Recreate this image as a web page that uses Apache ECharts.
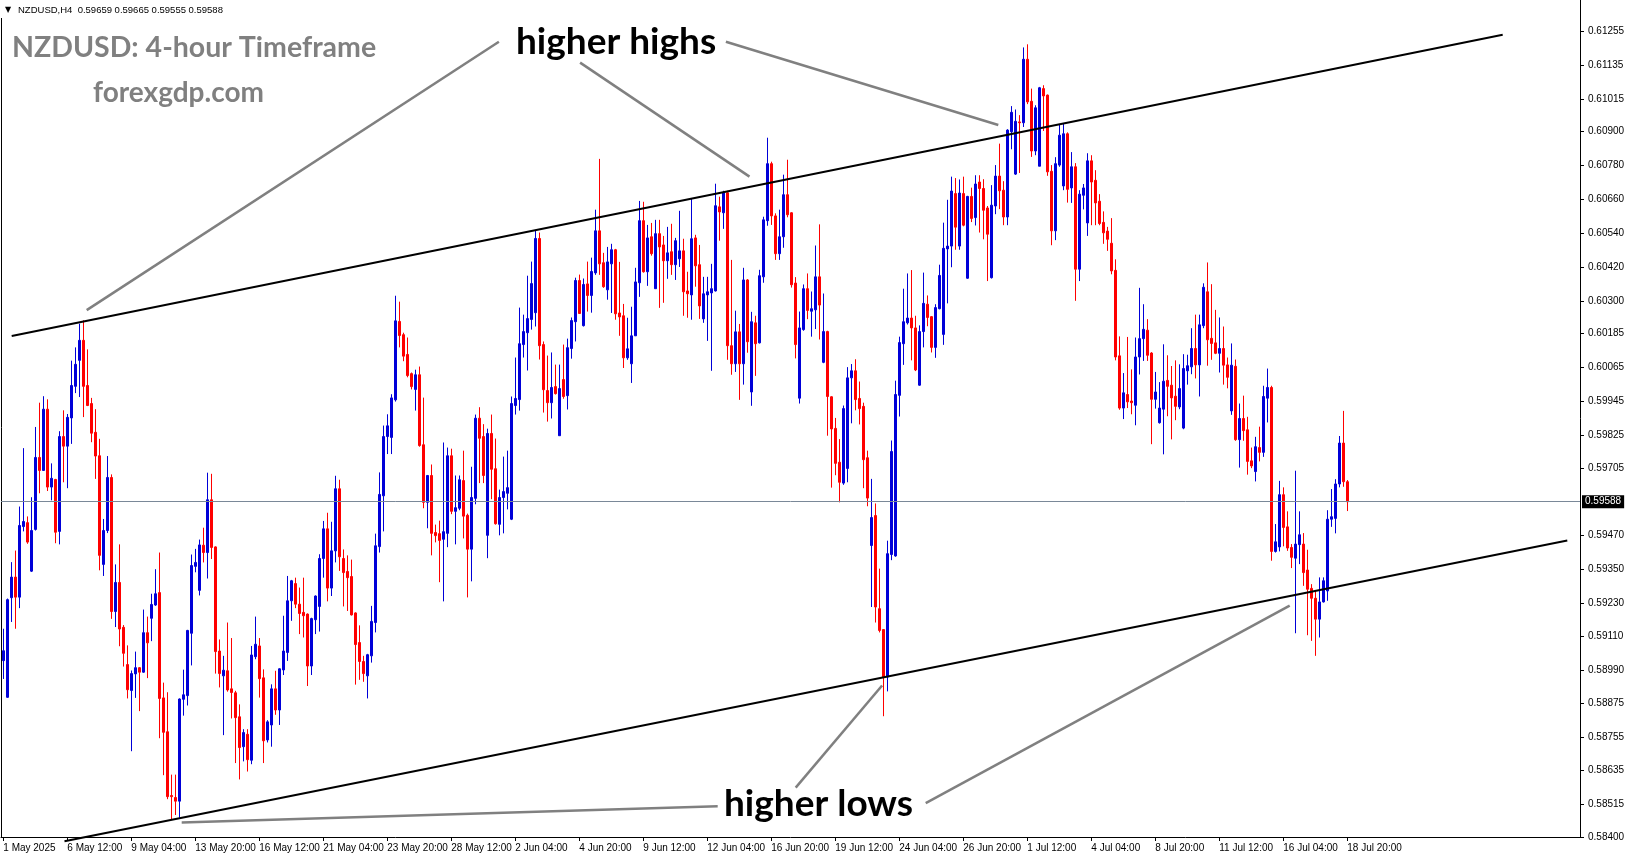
<!DOCTYPE html>
<html><head><meta charset="utf-8">
<script src="https://cdn.jsdelivr.net/npm/echarts@6/dist/echarts.min.js"></script>
<style>html,body{margin:0;padding:0;background:#fff;}#c{width:1631px;height:861px;}</style>
</head><body><div id="c"></div>
<script>
// ---- data (NZDUSD H4, 1 May 2025 20:00 .. 18 Jul 2025 20:00) ----
const opens = [0.59025,0.58895,0.59248,0.59321,0.59250,0.59500,0.59514,0.59342,0.59490,0.59745,
0.59699,0.59916,0.59640,0.59667,0.59483,0.59819,0.59785,0.59885,0.59997,0.60089,
0.60160,0.60000,0.59936,0.59834,0.59751,0.59366,0.59486,0.59674,0.59199,0.59302,
0.59143,0.59011,0.58919,0.58978,0.59000,0.58984,0.59124,0.59175,0.59222,0.59266,
0.58893,0.58773,0.58547,0.58540,0.58527,0.58888,0.58901,0.59122,0.59359,0.59274,
0.59434,0.59408,0.59595,0.59428,0.59059,0.58971,0.58989,0.58925,0.58911,0.58826,
0.58720,0.58764,0.58672,0.59039,0.59077,0.58964,0.58744,0.58797,0.58925,0.58850,
0.58992,0.59054,0.59237,0.59298,0.59225,0.59196,0.59190,0.59006,0.59170,0.59217,
0.59387,0.59492,0.59282,0.59414,0.59634,0.59387,0.59341,0.59323,0.59194,0.59089,
0.59022,0.58971,0.59042,0.59160,0.59429,0.59609,0.59819,0.59816,0.59949,0.60227,
0.60180,0.60110,0.60042,0.59986,0.60038,0.59790,0.59586,0.59681,0.59479,0.59475,
0.59455,0.59476,0.59751,0.59554,0.59565,0.59663,0.59540,0.59420,0.59600,0.59884,
0.59819,0.59469,0.59830,0.59705,0.59508,0.59603,0.59618,0.59526,0.59929,0.59950,
0.60145,0.60187,0.60234,0.60258,0.60521,0.60145,0.59982,0.59939,0.59996,0.59822,
0.60021,0.59964,0.60131,0.60226,0.60372,0.60212,0.60360,0.60319,0.60399,0.60548,
0.60435,0.60339,0.60431,0.60481,0.60257,0.60247,0.60098,0.60077,0.60176,0.60364,
0.60584,0.60403,0.60527,0.60343,0.60538,0.60498,0.60442,0.60474,0.60428,0.60449,
0.60477,0.60335,0.60321,0.60523,0.60428,0.60236,0.60321,0.60328,0.60335,0.60633,
0.60612,0.60683,0.60141,0.60077,0.60190,0.60077,0.60374,0.59977,0.60222,0.60151,
0.60385,0.60584,0.60786,0.60601,0.60467,0.60527,0.60676,0.60612,0.60363,0.59955,
0.60198,0.60343,0.60263,0.60268,0.60385,0.60082,0.60191,0.59960,0.59848,0.59728,
0.59654,0.59706,0.60027,0.60052,0.59954,0.59926,0.59744,0.59433,0.59539,0.59209,
0.59135,0.58967,0.59401,0.59396,0.59965,0.60148,0.60222,0.60239,0.60204,0.60001,
0.60191,0.60288,0.60244,0.60135,0.60272,0.60181,0.60484,0.60494,0.60680,0.60494,
0.60680,0.60380,0.60670,0.60595,0.60721,0.60698,0.60629,0.60382,0.60636,0.60742,
0.60692,0.60597,0.60899,0.60749,0.60934,0.60931,0.61156,0.61007,0.60831,0.60777,
0.61052,0.61029,0.60759,0.60548,0.60781,0.60707,0.60892,0.60700,0.60775,0.60412,
0.60674,0.60576,0.60796,0.60727,0.60653,0.60578,0.60547,0.60504,0.60408,0.60105,
0.59920,0.59968,0.59945,0.59930,0.60101,0.60166,0.60196,0.60115,0.59951,0.59868,
0.59916,0.60018,0.60001,0.59962,0.59924,0.59849,0.60052,0.60066,0.60131,0.60073,
0.60212,0.60332,0.60167,0.60151,0.60114,0.60131,0.60073,0.59910,0.60068,0.59808,
0.59883,0.59843,0.59733,0.59695,0.59780,0.59763,0.59955,0.59993,0.59412,0.59428,
0.59613,0.59499,0.59426,0.59388,0.59436,0.59438,0.59346,0.59281,0.59246,0.59172,
0.59233,0.59272,0.59526,0.59529,0.59651,0.59796,0.59659];
const highs = [0.59138,0.59245,0.59374,0.59415,0.59571,0.59778,0.59536,0.59604,0.59853,0.59939,
0.59962,0.59951,0.59724,0.59669,0.59838,0.59912,0.59899,0.60088,0.60135,0.60219,
0.60231,0.60128,0.59956,0.59916,0.59811,0.59527,0.59750,0.59685,0.59366,0.59437,
0.59151,0.59079,0.58990,0.59057,0.59002,0.59206,0.59181,0.59262,0.59349,0.59408,
0.58947,0.58913,0.58621,0.58621,0.58891,0.58993,0.59134,0.59401,0.59421,0.59454,
0.59496,0.59691,0.59687,0.59430,0.59100,0.59042,0.59160,0.59105,0.58918,0.58870,
0.58782,0.58782,0.59077,0.59181,0.59105,0.58994,0.58814,0.58941,0.58989,0.58998,
0.59184,0.59325,0.59311,0.59319,0.59284,0.59319,0.59192,0.59177,0.59256,0.59402,
0.59520,0.59549,0.59517,0.59680,0.59666,0.59419,0.59398,0.59383,0.59196,0.59150,
0.59042,0.59049,0.59219,0.59475,0.59692,0.59858,0.59898,0.59969,0.60318,0.60297,
0.60187,0.60170,0.60046,0.60056,0.60067,0.59957,0.59683,0.59720,0.59507,0.59521,
0.59798,0.59780,0.59776,0.59681,0.59681,0.59769,0.59546,0.59712,0.59897,0.59923,
0.59863,0.59847,0.59897,0.59812,0.59631,0.59748,0.59769,0.59961,0.60099,0.60276,
0.60251,0.60389,0.60439,0.60549,0.60542,0.60156,0.60106,0.60117,0.60074,0.60074,
0.60145,0.60166,0.60241,0.60382,0.60393,0.60379,0.60439,0.60453,0.60623,0.60803,
0.60470,0.60491,0.60502,0.60484,0.60438,0.60289,0.60240,0.60279,0.60417,0.60654,
0.60651,0.60569,0.60576,0.60587,0.60587,0.60530,0.60562,0.60573,0.60523,0.60619,
0.60520,0.60403,0.60662,0.60534,0.60498,0.60385,0.60385,0.60431,0.60715,0.60669,
0.60690,0.60690,0.60445,0.60265,0.60218,0.60417,0.60377,0.60261,0.60247,0.60410,
0.60598,0.60878,0.60793,0.60610,0.60623,0.60747,0.60800,0.60614,0.60384,0.60262,
0.60358,0.60397,0.60333,0.60496,0.60571,0.60326,0.60194,0.59962,0.59885,0.59810,
0.59929,0.60065,0.60076,0.60093,0.60014,0.59939,0.59769,0.59669,0.59582,0.59351,
0.59137,0.59450,0.59805,0.60017,0.60173,0.60343,0.60397,0.60409,0.60247,0.60213,
0.60400,0.60319,0.60246,0.60288,0.60428,0.60577,0.60658,0.60740,0.60735,0.60730,
0.60740,0.60672,0.60701,0.60745,0.60745,0.60731,0.60636,0.60710,0.60781,0.60857,
0.60724,0.60908,0.60990,0.60978,0.60958,0.61198,0.61209,0.61052,0.60993,0.61058,
0.61064,0.61031,0.60781,0.60809,0.60926,0.60928,0.60897,0.60827,0.60788,0.60692,
0.60714,0.60823,0.60816,0.60763,0.60678,0.60617,0.60562,0.60593,0.60447,0.60174,
0.60044,0.60172,0.60057,0.60170,0.60346,0.60288,0.60235,0.60118,0.60048,0.60012,
0.60146,0.60107,0.60069,0.60089,0.60075,0.60111,0.60109,0.60203,0.60251,0.60251,
0.60362,0.60436,0.60359,0.60268,0.60241,0.60209,0.60099,0.60149,0.60092,0.59936,
0.59964,0.59889,0.59780,0.59818,0.59854,0.59999,0.60060,0.59999,0.59509,0.59662,
0.59639,0.59554,0.59438,0.59698,0.59554,0.59477,0.59418,0.59296,0.59272,0.59320,
0.59320,0.59558,0.59633,0.59668,0.59821,0.59910,0.59665];
const lows = [0.58960,0.58893,0.59162,0.59138,0.59211,0.59483,0.59439,0.59339,0.59486,0.59618,
0.59697,0.59626,0.59593,0.59441,0.59437,0.59657,0.59636,0.59793,0.59973,0.59959,
0.59888,0.59927,0.59799,0.59669,0.59345,0.59325,0.59477,0.59173,0.59144,0.59076,
0.59004,0.58891,0.58704,0.58893,0.58846,0.58982,0.58963,0.59094,0.59219,0.58750,
0.58619,0.58534,0.58462,0.58478,0.58468,0.58830,0.58866,0.59008,0.59338,0.59256,
0.59373,0.59316,0.59385,0.58979,0.58930,0.58761,0.58915,0.58820,0.58662,0.58604,
0.58668,0.58632,0.58658,0.59030,0.58894,0.58662,0.58735,0.58720,0.58833,0.58797,
0.58974,0.59024,0.59166,0.59211,0.59119,0.59107,0.58935,0.58974,0.59119,0.59128,
0.59319,0.59235,0.59254,0.59373,0.59343,0.59217,0.59201,0.59185,0.58940,0.58957,
0.58950,0.58891,0.59018,0.59125,0.59408,0.59483,0.59757,0.59757,0.59943,0.60135,
0.60086,0.60029,0.59986,0.59911,0.59783,0.59565,0.59494,0.59398,0.59444,0.59303,
0.59235,0.59427,0.59544,0.59437,0.59558,0.59458,0.59249,0.59306,0.59579,0.59654,
0.59654,0.59388,0.59597,0.59507,0.59469,0.59476,0.59561,0.59523,0.59897,0.59911,
0.60099,0.60053,0.60198,0.60209,0.60092,0.59904,0.59872,0.59883,0.59968,0.59822,
0.59953,0.59915,0.60095,0.60156,0.60255,0.60209,0.60262,0.60258,0.60392,0.60392,
0.60346,0.60304,0.60257,0.60233,0.60176,0.60062,0.60091,0.60009,0.60176,0.60314,
0.60400,0.60353,0.60460,0.60343,0.60275,0.60293,0.60378,0.60392,0.60374,0.60420,
0.60247,0.60240,0.60233,0.60350,0.60236,0.60222,0.60158,0.60052,0.60333,0.60513,
0.60555,0.60091,0.60038,0.60048,0.59949,0.60003,0.60116,0.59928,0.60034,0.60149,
0.60364,0.60566,0.60569,0.60445,0.60445,0.60488,0.60596,0.60347,0.60096,0.59936,
0.60194,0.60235,0.60173,0.60200,0.60163,0.60079,0.59822,0.59638,0.59682,0.59586,
0.59648,0.59657,0.59866,0.59912,0.59862,0.59636,0.59572,0.59215,0.59160,0.59125,
0.58828,0.58916,0.59381,0.59393,0.59890,0.60073,0.60216,0.60089,0.60051,0.59999,
0.60135,0.60210,0.60117,0.60098,0.60270,0.60144,0.60291,0.60419,0.60481,0.60481,
0.60564,0.60378,0.60579,0.60567,0.60542,0.60518,0.60370,0.60379,0.60607,0.60625,
0.60568,0.60568,0.60837,0.60746,0.60753,0.60916,0.60997,0.60810,0.60816,0.60777,
0.60902,0.60743,0.60497,0.60515,0.60775,0.60692,0.60648,0.60647,0.60300,0.60370,
0.60624,0.60530,0.60568,0.60568,0.60568,0.60502,0.60477,0.60394,0.60089,0.59914,
0.59881,0.59920,0.59898,0.59859,0.60039,0.60087,0.60087,0.59792,0.59918,0.59865,
0.59756,0.59891,0.59809,0.59877,0.59916,0.59845,0.60003,0.60040,0.60025,0.59961,
0.60203,0.60070,0.60091,0.60111,0.60046,0.60003,0.59990,0.59896,0.59804,0.59709,
0.59804,0.59684,0.59707,0.59660,0.59731,0.59747,0.59869,0.59379,0.59408,0.59412,
0.59430,0.59414,0.59353,0.59122,0.59367,0.59290,0.59115,0.59095,0.59042,0.59107,
0.59231,0.59237,0.59499,0.59476,0.59639,0.59641,0.59555];
const closes = [0.59060,0.59241,0.59321,0.59250,0.59504,0.59518,0.59445,0.59486,0.59745,0.59699,
0.59916,0.59640,0.59671,0.59480,0.59819,0.59785,0.59887,0.60000,0.60075,0.60160,
0.59997,0.59929,0.59831,0.59750,0.59398,0.59486,0.59674,0.59199,0.59302,0.59137,
0.59051,0.58922,0.58979,0.59000,0.58984,0.59124,0.59088,0.59224,0.59262,0.58891,
0.58771,0.58543,0.58543,0.58527,0.58889,0.58904,0.59132,0.59362,0.59373,0.59435,
0.59408,0.59595,0.59426,0.59057,0.58979,0.58991,0.58921,0.58912,0.58823,0.58717,
0.58770,0.58674,0.59045,0.59083,0.58961,0.58741,0.58808,0.58925,0.58850,0.58996,
0.59059,0.59237,0.59308,0.59225,0.59192,0.59184,0.59006,0.59174,0.59254,0.59387,
0.59492,0.59282,0.59414,0.59634,0.59393,0.59337,0.59319,0.59187,0.59082,0.59022,
0.58979,0.59046,0.59164,0.59432,0.59614,0.59819,0.59857,0.59956,0.60229,0.60177,
0.60104,0.60035,0.59996,0.60038,0.59787,0.59586,0.59681,0.59476,0.59468,0.59451,
0.59482,0.59751,0.59554,0.59567,0.59666,0.59537,0.59420,0.59603,0.59884,0.59813,
0.59681,0.59830,0.59703,0.59510,0.59603,0.59624,0.59638,0.59936,0.59954,0.60148,
0.60191,0.60237,0.60361,0.60521,0.60141,0.59985,0.59939,0.59993,0.59971,0.59989,
0.59961,0.60134,0.60230,0.60372,0.60255,0.60358,0.60319,0.60404,0.60548,0.60431,
0.60350,0.60438,0.60481,0.60254,0.60243,0.60098,0.60130,0.60176,0.60367,0.60584,
0.60403,0.60523,0.60467,0.60538,0.60491,0.60442,0.60470,0.60428,0.60513,0.60477,
0.60332,0.60325,0.60520,0.60424,0.60282,0.60325,0.60332,0.60343,0.60637,0.60615,
0.60683,0.60141,0.60077,0.60190,0.60077,0.60374,0.60155,0.60226,0.60148,0.60389,
0.60587,0.60786,0.60601,0.60467,0.60527,0.60676,0.60605,0.60357,0.60145,0.60204,
0.60343,0.60266,0.60272,0.60385,0.60285,0.60191,0.59961,0.59846,0.59724,0.59657,
0.59918,0.60027,0.60052,0.59950,0.59918,0.59737,0.59601,0.59532,0.59215,0.59132,
0.58967,0.59404,0.59766,0.59968,0.60152,0.60226,0.60239,0.60204,0.60055,0.60191,
0.60291,0.60241,0.60135,0.60276,0.60390,0.60486,0.60494,0.60689,0.60561,0.60682,
0.60568,0.60670,0.60592,0.60714,0.60698,0.60621,0.60536,0.60639,0.60742,0.60690,
0.60597,0.60905,0.60968,0.60936,0.60931,0.61156,0.61005,0.60831,0.60984,0.61055,
0.61026,0.60757,0.60548,0.60786,0.60887,0.60892,0.60695,0.60775,0.60412,0.60678,
0.60700,0.60796,0.60721,0.60647,0.60574,0.60541,0.60518,0.60406,0.60101,0.59920,
0.59974,0.59942,0.59939,0.60101,0.60166,0.60199,0.60107,0.59951,0.59977,0.59920,
0.60015,0.59997,0.59956,0.59926,0.59989,0.60060,0.60070,0.60131,0.60073,0.60215,
0.60348,0.60162,0.60149,0.60114,0.60131,0.60072,0.60029,0.60072,0.59808,0.59883,
0.59840,0.59731,0.59715,0.59783,0.59763,0.59961,0.59993,0.59412,0.59446,0.59613,
0.59497,0.59424,0.59391,0.59438,0.59471,0.59337,0.59278,0.59246,0.59172,0.59233,
0.59308,0.59526,0.59535,0.59651,0.59796,0.59659,0.59588];

const xTickLabels = ["1 May 2025","6 May 12:00","9 May 04:00","13 May 20:00","16 May 12:00","21 May 04:00",
"23 May 20:00","28 May 12:00","2 Jun 04:00","4 Jun 20:00","9 Jun 12:00","12 Jun 04:00","16 Jun 20:00",
"19 Jun 12:00","24 Jun 04:00","26 Jun 20:00","1 Jul 12:00","4 Jul 04:00","8 Jul 20:00","11 Jul 12:00",
"16 Jul 04:00","18 Jul 20:00"];
const barsPerXTick = 16;
const yTickValues = [0.58400,0.58515,0.58635,0.58755,0.58875,0.58990,0.59110,0.59230,0.59350,0.59470,
0.59705,0.59825,0.59945,0.60065,0.60185,0.60300,0.60420,0.60540,0.60660,0.60780,0.60900,0.61015,0.61135,0.61255];
const lastPrice = 0.59588;
// channel lines [barIndex, price]
const upperChannel = [[2.1, 0.60175],[374.85, 0.61243]];
const lowerChannel = [[15.3, 0.58385],[391.0, 0.59451]];
// annotation pointer lines [barIndex, price]
const pointerHighs = [
  [[123.9, 0.61218],[20.85, 0.60267]],
  [[144.2, 0.61144],[186.55, 0.60740]],
  [[180.65, 0.61218],[248.75, 0.60923]]
];
const pointerLows = [
  [[219.7, 0.58937],[198.1, 0.58575]],
  [[44.6, 0.58451],[178.6, 0.58509]],
  [[230.6, 0.58520],[321.6, 0.59220]]
];

// ---- chart ----
const ohlc = opens.map((o, i) => [i, o, closes[i], lows[i], highs[i]]);
const xTickIdx = xTickLabels.map((_, k) => k * barsPerXTick);
const UP = '#0000d8', DOWN = '#ff0000';
const FONT = 'Liberation Sans';

const lineSeries = (pts, color, width, clip) => ({
  type: 'line', data: pts, symbol: 'none', silent: true, clip: clip !== false,
  lineStyle: { color: color, width: width }, z: 5, animation: false
});

const priceLineSeries = {
  type: 'line', data: [], symbol: 'none', silent: true, animation: false, z: 2,
  markLine: {
    silent: true, symbol: 'none', animation: false, precision: 5,
    lineStyle: { color: '#7a8898', width: 1, type: 'solid' },
    label: { show: true, position: 'end', distance: 2, formatter: lastPrice.toFixed(5),
      backgroundColor: '#000', color: '#fff', fontFamily: FONT, fontSize: 10, padding: [2, 3, 1, 3] },
    data: [{ yAxis: lastPrice }]
  }
};

const series = [
priceLineSeries,
{
  type: 'candlestick',
  data: ohlc,
  encode: { x: 0, y: [1, 2, 3, 4] },
  barWidth: 2,
  itemStyle: { color: UP, color0: DOWN, borderColor: UP, borderColor0: DOWN, borderWidth: 1 },
  z: 3
},
lineSeries(upperChannel, '#000', 2),
lineSeries(lowerChannel, '#000', 2, false)
];
pointerHighs.concat(pointerLows).forEach(p => series.push(lineSeries(p, '#808080', 2.5)));

const chart = echarts.init(document.getElementById('c'), null, { renderer: 'canvas' });
chart.setOption({
  animation: false,
  backgroundColor: '#fff',
  grid: { left: 1, right: 51, top: 0, bottom: 24, containLabel: false },
  xAxis: {
    type: 'value', min: -0.575, max: 394.175,
    axisLine: { show: true, lineStyle: { color: '#000', width: 1 } },
    axisTick: { show: true, length: 4, customValues: xTickIdx, lineStyle: { color: '#000' } },
    axisLabel: { show: true, customValues: xTickIdx, align: 'left', margin: 6,
      formatter: v => xTickLabels[Math.round(v / barsPerXTick)] || '',
      color: '#000', fontFamily: FONT, fontSize: 10 },
    splitLine: { show: false }
  },
  yAxis: {
    type: 'value', position: 'right', min: 0.584, max: 0.61366, scale: true,
    axisLine: { show: true, onZero: false, lineStyle: { color: '#000', width: 1 } },
    axisTick: { show: true, length: 4, customValues: yTickValues, lineStyle: { color: '#000' } },
    axisLabel: { show: true, customValues: yTickValues, margin: 8,
      formatter: v => v.toFixed(5), color: '#000', fontFamily: FONT, fontSize: 10 },
    splitLine: { show: false }
  },
  series: series,
  graphic: [
    { type: 'line', shape: { x1: 1.5, y1: 18, x2: 1.5, y2: 837 }, style: { stroke: '#000', lineWidth: 1 }, silent: true },
    { type: 'text', left: 5, top: 6, style: { text: '\u25BC', fontSize: 8, fill: '#000', fontFamily: 'DejaVu Sans' } },
    { type: 'text', left: 18, top: 5, style: { text: 'NZDUSD,H4  0.59659 0.59665 0.59555 0.59588', fontSize: 9.5, fill: '#000', fontFamily: FONT } },
    { type: 'text', left: 12, top: 33, style: { text: 'NZDUSD: 4-hour Timeframe', fontSize: 28.5, fontWeight: 'bold', fill: '#808080', fontFamily: 'Lato' } },
    { type: 'text', left: 93, top: 79, style: { text: 'forexgdp.com', fontSize: 28, fontWeight: 'bold', fill: '#808080', fontFamily: 'Lato' } },
    { type: 'text', left: 516, top: 24, style: { text: 'higher highs', fontSize: 37, fontWeight: 'bold', fill: '#000', fontFamily: 'Lato' } },
    { type: 'text', left: 724, top: 786, style: { text: 'higher lows', fontSize: 37, fontWeight: 'bold', fill: '#000', fontFamily: 'Lato' } }
  ]
});
</script></body></html>
